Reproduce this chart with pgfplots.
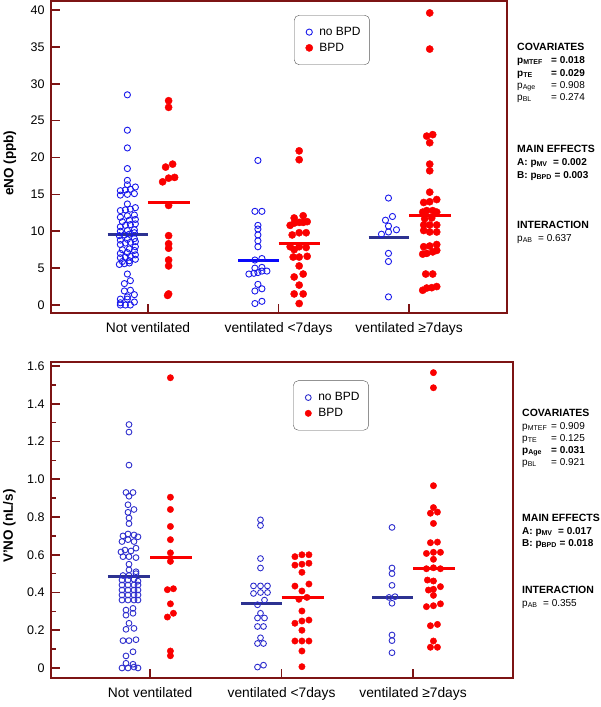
\documentclass[border=0pt]{standalone}
\usepackage{fontspec}
\setmainfont{Liberation Sans}
\usepackage{pgfplots}
\pgfplotsset{compat=1.18}
\usepackage{pgfplotstable}

\definecolor{cblue}{RGB}{25,25,235}
\definecolor{cblueB}{RGB}{45,45,205}
\definecolor{cnavy}{RGB}{45,50,145}
\definecolor{cbright}{RGB}{10,10,250}
\definecolor{cred}{RGB}{250,0,0}
\definecolor{frame}{RGB}{125,20,20}

% g = category (1,2,3), dx = horizontal offset in px, y = value
\pgfplotstableread{
g dx y
1 0 28.5
1 0 23.7
1 0 21.3
1 0 18.5
1 0 16.9
1 0 16.3
1 8 16.0
1 -7 15.5
1 -2 15.6
1 3 15.7
1 -7 14.9
1 0 15.0
1 7 15.1
1 0 13.7
1 -7 12.8
1 -2 12.9
1 3 13.0
1 8 13.2
1 -7 11.9
1 0 12.1
1 7 12.2
1 -5 11.3
1 2 11.5
1 8 11.6
1 -7 10.6
1 -2 10.8
1 3 10.9
1 8 11.0
1 -7 10.0
1 0 10.1
1 7 10.2
1 -8 9.4
1 -3 9.5
1 2 9.6
1 7 9.8
1 -7 8.8
1 0 8.9
1 7 9.0
1 -7 8.2
1 -2 8.4
1 3 8.5
1 8 8.6
1 -5 7.5
1 2 7.6
1 8 7.9
1 -7 7.0
1 0 7.1
1 7 7.4
1 -7 6.4
1 -2 6.5
1 3 6.6
1 8 6.8
1 -5 5.9
1 2 6.0
1 8 6.2
1 -8 5.5
1 -3 5.6
1 2 5.7
1 0 4.2
1 3 3.3
1 -3 2.9
1 3 2.0
1 -3 1.9
1 7 1.4
1 0 1.1
1 -7 0.8
1 0 0.8
1 7 0.4
1 -7 0.3
1 -7 0.0
1 -2 0.0
1 3 0.0
2 0 19.6
2 -3 12.7
2 4 12.7
2 0 10.8
2 0 10.3
2 0 9.5
2 0 8.7
2 0 7.9
2 -3 6.1
2 4 6.3
2 -3 5.0
2 4 5.1
2 -9 4.2
2 -4 4.3
2 0 4.4
2 4 4.6
2 9 4.6
2 0 2.8
2 -3 1.9
2 4 2.2
2 -3 0.2
2 4 0.5
3 0 14.5
3 -3 11.5
3 4 12.0
3 0 10.7
3 -7 9.6
3 0 9.9
3 8 10.2
3 0 7.0
3 0 5.9
3 0 1.1
}\topA

\pgfplotstableread{
g dx y
1 0 27.7
1 0 26.8
1 4 19.1
1 -3 18.7
1 -6 16.7
1 0 17.2
1 6 17.3
1 0 13.5
1 0 9.4
1 0 8.3
1 0 7.7
1 0 6.1
1 0 5.3
1 0 1.5
1 -1 1.3
2 0 20.9
2 0 19.7
2 -5 11.8
2 4 12.1
2 -9 10.8
2 -5 11.1
2 0 11.2
2 4 11.2
2 8 11.3
2 -7 9.5
2 0 9.8
2 7 9.8
2 -9 7.9
2 0 7.9
2 7 7.8
2 -5 7.5
2 -6 6.5
2 0 6.5
2 8 6.6
2 0 5.3
2 4 4.2
2 -5 3.8
2 0 2.7
2 -5 1.5
2 4 1.5
2 0 0.2
3 0 39.6
3 0 34.7
3 -3 22.9
3 3 23.1
3 0 22.0
3 0 19.1
3 0 18.2
3 0 15.3
3 -6 13.9
3 0 14.0
3 7 14.3
3 -7 12.6
3 -3 12.8
3 3 12.8
3 7 12.6
3 -5 11.7
3 2 11.8
3 -6 10.85
3 0 10.85
3 7 10.85
3 -6 10.1
3 0 9.9
3 7 9.9
3 -6 7.9
3 0 8.0
3 7 8.2
3 -7 6.9
3 -3 7.0
3 3 7.2
3 7 7.4
3 -4 4.2
3 3 4.2
3 -7 2.0
3 -3 2.3
3 2 2.35
3 7 2.5
}\topB

\pgfplotstableread{
g dx y
1 0 1.29
1 0 1.25
1 0 1.075
1 -3 0.93
1 4 0.93
1 0 0.91
1 -1 0.865
1 5 0.84
1 -1 0.825
1 0 0.795
1 0 0.765
1 -6 0.70
1 -1 0.71
1 5 0.705
1 9 0.695
1 -7 0.67
1 -1 0.68
1 5 0.67
1 -8 0.615
1 -4 0.625
1 2 0.62
1 7 0.635
1 -6 0.59
1 0 0.59
1 7 0.585
1 0 0.55
1 0 0.52
1 7 0.51
1 -6 0.49
1 0 0.49
1 7 0.50
1 -7 0.466
1 -1 0.466
1 5 0.47
1 9 0.46
1 -7 0.44
1 -1 0.44
1 5 0.44
1 9 0.44
1 -7 0.413
1 -1 0.413
1 5 0.413
1 9 0.413
1 -7 0.387
1 -1 0.387
1 5 0.387
1 9 0.387
1 -7 0.36
1 -1 0.36
1 5 0.36
1 9 0.36
1 -3 0.307
1 4 0.316
1 -3 0.28
1 4 0.29
1 0 0.237
1 5 0.21
1 -3 0.205
1 -6 0.145
1 0 0.145
1 7 0.15
1 4 0.086
1 -3 0.064
1 -3 0.025
1 4 0.02
1 -7 0.0
1 -1 0.0
1 5 0.005
1 9 0.0
2 0 0.785
2 0 0.755
2 0 0.58
2 0 0.53
2 -7 0.435
2 0 0.435
2 7 0.435
2 -7 0.395
2 0 0.40
2 7 0.40
2 4 0.36
2 -3 0.335
2 0 0.29
2 -3 0.265
2 4 0.265
2 -3 0.22
2 3 0.22
2 0 0.16
2 -3 0.13
2 3 0.13
2 -3 0.005
2 3 0.015
3 0 0.745
3 0 0.53
3 0 0.50
3 0 0.438
3 -3 0.374
3 3 0.378
3 0 0.343
3 0 0.175
3 0 0.145
3 0 0.081
}\botA

\pgfplotstableread{
g dx y
1 0 1.538
1 0 0.905
1 0 0.84
1 0 0.75
1 0 0.68
1 0 0.61
1 0 0.565
1 -3 0.415
1 3 0.42
1 0 0.34
1 -3 0.27
1 3 0.29
1 0 0.09
1 0 0.065
2 -7 0.59
2 0 0.60
2 7 0.60
2 -7 0.545
2 0 0.55
2 7 0.555
2 0 0.507
2 -7 0.434
2 7 0.445
2 0 0.408
2 -3 0.364
2 5 0.374
2 0 0.302
2 -7 0.237
2 0 0.249
2 7 0.254
2 0 0.20
2 -7 0.143
2 0 0.143
2 7 0.143
2 0 0.09
2 0 0.007
3 0 1.565
3 0 1.485
3 0 0.966
3 0 0.85
3 -3 0.82
3 4 0.826
3 0 0.766
3 -3 0.664
3 4 0.667
3 -7 0.607
3 0 0.613
3 7 0.613
3 0 0.576
3 -7 0.526
3 0 0.531
3 7 0.526
3 0 0.461
3 -6 0.466
3 7 0.431
3 -5 0.413
3 0 0.417
3 0 0.385
3 -7 0.325
3 0 0.33
3 7 0.34
3 -3 0.224
3 4 0.231
3 0 0.143
3 -3 0.11
3 4 0.11
}\botB

\pgfplotsset{
  panel/.style={
    scale only axis, anchor=south west, clip=false,
    xtick={1,2,3},
    xticklabels={Not ventilated, ventilated <7days, ventilated ≥7days},
    tick pos=left, tick align=inside,
    axis line style={frame, line width=2pt},
    major tick length=9pt, minor tick length=4.5pt,
    every tick/.style={frame, line width=1.6pt},
    yticklabel style={font=\fontsize{12.5}{14}\selectfont, xshift=-3pt},
    xticklabel style={font=\fontsize{13.8}{15}\selectfont, yshift=-6pt},
    /pgf/number format/assume math mode=true,
    every axis y label/.style={at={(axis description cs:-0.09,0.48)}, rotate=90, anchor=center, font=\bfseries\fontsize{13.5}{15}\selectfont},
    legend cell align=left,
  },
  scat/.style={only marks,
    legend image code/.code={\path[draw=none,fill=none] (0pt,-3pt) rectangle (16pt,3pt);
      \draw[mark repeat=2,mark phase=2,##1] plot coordinates {(0pt,0pt) (8pt,0pt) (16pt,0pt)};}},
  medline/.style={line width=3pt, forget plot},
}

\newcommand{\hd}[1]{{\bfseries\fontsize{10.5}{12}\selectfont #1}}
\newcommand{\tx}[1]{{\fontsize{10}{12}\selectfont #1}}
\newcommand{\bx}[1]{{\bfseries\fontsize{10}{12}\selectfont #1}}

\begin{document}
\begin{tikzpicture}
\useasboundingbox (0pt,0pt) rectangle (600pt,-707pt);

% ---------------- top panel ----------------
\begin{axis}[panel,
  at={(51pt,-313pt)}, width=456pt, height=312pt,
  xmin=0.257, xmax=3.75, ymin=-1.085, ymax=41.22,
  ytick={0,5,...,40},
  ylabel={eNO (ppb)},
  legend style={draw=black!65, rounded corners=5pt, font=\fontsize{12}{13}\selectfont,
    inner xsep=7pt, inner ysep=10pt, row sep=2pt, anchor=north west,
    at={(axis description cs:0.533,0.955)}},
]
\addplot[scat, mark=o, mark size=3.1pt, cblue, line width=0.9pt]
  table[x expr={\thisrow{g}-0.158+\thisrow{dx}/130.5}, y=y] {\topA};
\addlegendentry{no BPD}
\addplot[scat, mark=*, mark size=3.6pt, cred]
  table[x expr={\thisrow{g}+0.158+\thisrow{dx}/130.5}, y=y] {\topB};
\addlegendentry{BPD}
\addplot[medline, cnavy] coordinates {(0.69,9.6) (1.0,9.6)};
\addplot[medline, cred] coordinates {(1.0,13.9) (1.32,13.9)};
\addplot[medline, cbright] coordinates {(1.69,6.1) (2.0,6.1)};
\addplot[medline, cred] coordinates {(2.0,8.3) (2.32,8.3)};
\addplot[medline, cnavy] coordinates {(2.69,9.1) (3.0,9.1)};
\addplot[medline, cred] coordinates {(3.0,12.2) (3.32,12.2)};
\end{axis}

% ---------------- bottom panel ----------------
\begin{axis}[panel,
  at={(51pt,-678pt)}, width=462pt, height=316.5pt,
  xmin=0.247, xmax=3.76, ymin=-0.053, ymax=1.624,
  ytick={0,0.2,0.4,0.6,0.8,1.0,1.2,1.4,1.6},
  yticklabels={0,0.2,0.4,0.6,0.8,1.0,1.2,1.4,1.6},
  minor ytick={0.1,0.3,0.5,0.7,0.9,1.1,1.3,1.5},
  ylabel={V'NO (nL/s)},
  legend style={draw=black!65, rounded corners=5pt, font=\fontsize{12}{13}\selectfont,
    inner xsep=7pt, inner ysep=10pt, row sep=2pt, anchor=north west,
    at={(axis description cs:0.524,0.94)}},
]
\addplot[scat, mark=o, mark size=2.9pt, cblueB, line width=0.9pt]
  table[x expr={\thisrow{g}-0.16+\thisrow{dx}/131.5}, y=y] {\botA};
\addlegendentry{no BPD}
\addplot[scat, mark=*, mark size=3.2pt, cred]
  table[x expr={\thisrow{g}+0.155+\thisrow{dx}/131.5}, y=y] {\botB};
\addlegendentry{BPD}
\addplot[medline, cnavy] coordinates {(0.68,0.484) (1.0,0.484)};
\addplot[medline, cred] coordinates {(1.0,0.585) (1.32,0.585)};
\addplot[medline, cnavy] coordinates {(1.69,0.34) (2.0,0.34)};
\addplot[medline, cred] coordinates {(2.0,0.375) (2.32,0.375)};
\addplot[medline, cnavy] coordinates {(2.69,0.371) (3.0,0.371)};
\addplot[medline, cred] coordinates {(3.0,0.528) (3.32,0.528)};
\end{axis}

% ---------------- statistics text, top ----------------
\begin{scope}[every node/.style={anchor=base west, inner sep=0pt}]
\node at (517pt,-50pt) {\hd{COVARIATES}};
\node at (517pt,-63pt) {\bx{p\textsubscript{MTEF}}};  \node at (551pt,-63pt) {\bx{= 0.018}};
\node at (517pt,-76pt) {\bx{p\textsubscript{TE}}};    \node at (551pt,-76pt) {\bx{= 0.029}};
\node at (517pt,-88pt) {\tx{p\textsubscript{Age}}};   \node at (551pt,-88pt) {\tx{= 0.908}};
\node at (517pt,-100pt) {\tx{p\textsubscript{BL}}};   \node at (551pt,-100pt) {\tx{= 0.274}};
\node at (517pt,-152pt) {\hd{MAIN EFFECTS}};
\node at (517pt,-165pt) {\bx{A: p\textsubscript{MV} \ = 0.002}};
\node at (517pt,-178pt) {\bx{B: p\textsubscript{BPD} = 0.003}};
\node at (517pt,-228pt) {\hd{INTERACTION}};
\node at (517pt,-241pt) {\tx{p\textsubscript{AB} \ = 0.637}};

% ---------------- statistics text, bottom ----------------
\node at (522pt,-416pt) {\hd{COVARIATES}};
\node at (522pt,-429pt) {\tx{p\textsubscript{MTEF}}};  \node at (551pt,-429pt) {\tx{= 0.909}};
\node at (522pt,-441pt) {\tx{p\textsubscript{TE}}};    \node at (551pt,-441pt) {\tx{= 0.125}};
\node at (522pt,-453pt) {\bx{p\textsubscript{Age}}};   \node at (551pt,-453pt) {\bx{= 0.031}};
\node at (522pt,-465pt) {\tx{p\textsubscript{BL}}};    \node at (551pt,-465pt) {\tx{= 0.921}};
\node at (522pt,-521pt) {\hd{MAIN EFFECTS}};
\node at (522pt,-534pt) {\bx{A: p\textsubscript{MV} \ = 0.017}};
\node at (522pt,-546pt) {\bx{B: p\textsubscript{BPD} = 0.018}};
\node at (522pt,-593pt) {\hd{INTERACTION}};
\node at (522pt,-606pt) {\tx{p\textsubscript{AB} \ = 0.355}};
\end{scope}
\end{tikzpicture}
\end{document}
